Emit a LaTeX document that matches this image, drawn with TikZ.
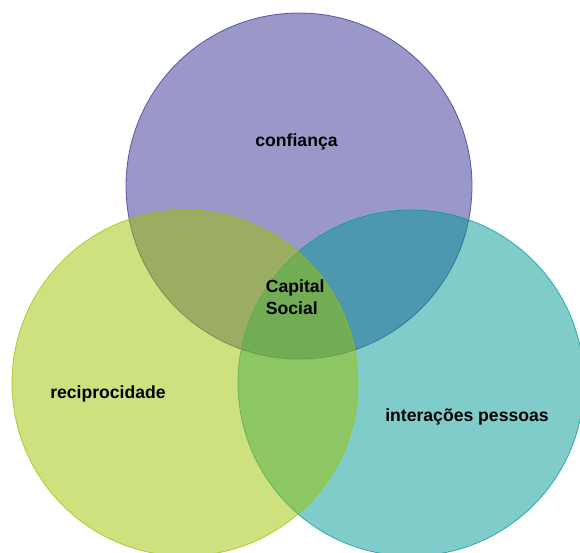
\documentclass[tikz,border=0pt]{standalone}
\usepackage{fontspec}
\setmainfont{Liberation Sans}

\definecolor{vennpurple}{RGB}{53,49,145}
\definecolor{vennteal}{RGB}{0,153,149}
\definecolor{venngreen}{RGB}{155,195,0}

\tikzset{
    venn/.style={circle, minimum size=346pt, inner sep=0pt, outer sep=0pt,
        fill=#1, fill opacity=0.5, draw=#1, draw opacity=0.75, line width=0.8pt},
    lbl/.style={inner sep=0pt, font=\fontsize{17.6}{22}\selectfont\bfseries, text=black}
}

\begin{document}
\begin{tikzpicture}[x=1pt,y=-1pt]
        \useasboundingbox (0,0) rectangle (580,552);

        \node[venn=vennpurple] (confianca) at (299,186) {};
        \node[venn=vennteal] (interacoes) at (411,383) {};
        \node[venn=venngreen] (reciproc) at (185,383) {};

        \node[lbl, anchor=base] (lconf) at (296.5,146.7) {confiança};
        \node[lbl, anchor=base] (lrec) at (108,398.5) {reciprocidade};
        \node[lbl, anchor=base] (lint) at (467,421.7) {interações pessoas};
        \node[lbl, anchor=base west, align=left] (lcap) at (265.7,314.3) {Capital\\Social};
    \end{tikzpicture}
\end{document}
